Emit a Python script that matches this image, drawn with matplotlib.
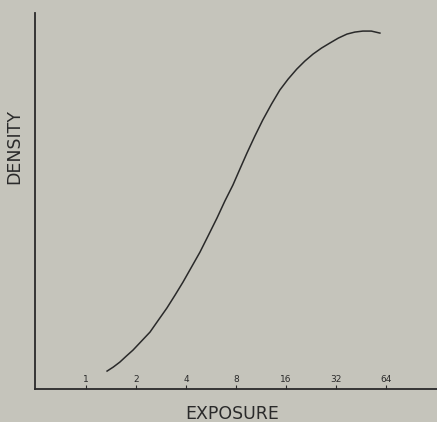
import numpy as np
import matplotlib.pyplot as plt

# values
exposure = [1.34, 1.46, 1.60, 1.75, 1.92, 2.16, 2.43, 2.73, 3.07, 3.44,
            3.84, 4.32, 4.86, 5.47, 6.15, 6.86, 7.67, 8.45, 9.32, 10.4,
            11.6, 13.1, 14.7, 16.5, 18.6, 20.8, 23.3, 26.2, 29.4, 33.1,
            37.3, 41.6, 46.5, 52.3, 58.9]
density = [0.18, 0.22, 0.27, 0.33, 0.39, 0.48, 0.57, 0.69, 0.81, 0.94,
           1.07, 1.22, 1.37, 1.54, 1.71, 1.88, 2.04, 2.20, 2.36, 2.53,
           2.69, 2.85, 2.99, 3.10, 3.20, 3.28, 3.35, 3.41, 3.46, 3.51,
           3.55, 3.57, 3.58, 3.58, 3.56]
ticks = [1, 2, 4, 8, 16, 32, 64]
tick_labels = ['1', '2', '4', '8', '16', '32', '64']

bg = '#c5c4bb'
ink = '#2a2a2a'

fig = plt.figure(figsize=(4.37, 4.22), dpi=100, facecolor=bg)
ax = fig.add_axes([0.08, 0.078, 0.92, 0.891], facecolor=bg)

ax.plot(exposure, density, color=ink, lw=1.1)

ax.set_xscale('log', base=2)
ax.set_xlim(0.493, 130)
ax.set_ylim(0, 3.76)
ax.set_xticks(ticks)
ax.set_xticklabels(tick_labels)
ax.minorticks_off()
ax.set_yticks([])
ax.tick_params(axis='x', direction='in', length=3, pad=-10, labelsize=6.5,
               color=ink, labelcolor=ink)

for s in ['top', 'right']:
    ax.spines[s].set_visible(False)
for s in ['left', 'bottom']:
    ax.spines[s].set_color(ink)
    ax.spines[s].set_linewidth(1.3)

ax.set_xlabel('EXPOSURE', fontsize=12.5, color=ink, va='center')
ax.xaxis.set_label_coords(0.49, -0.067)
ax.set_ylabel('DENSITY', fontsize=12.5, color=ink)
ax.yaxis.set_label_coords(-0.03, 0.646)

fig.savefig('out.png', dpi=100, facecolor=bg)
